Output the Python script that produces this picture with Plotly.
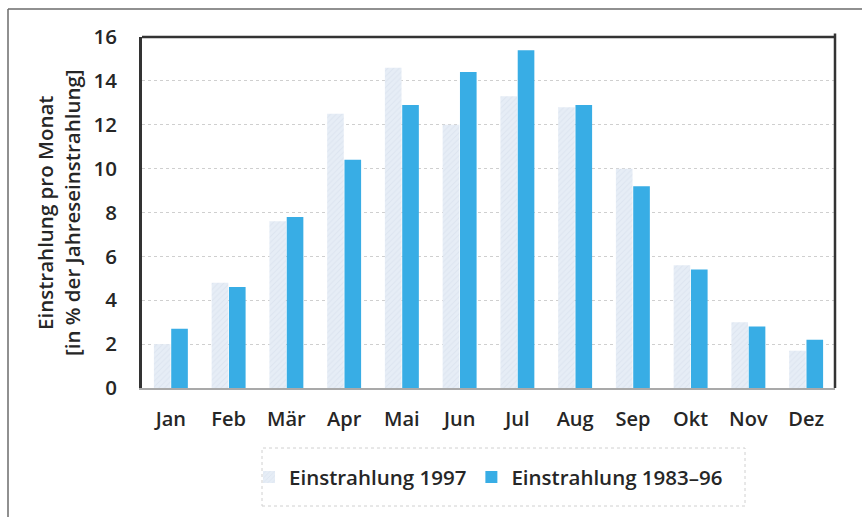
import plotly.graph_objects as go

months = ["Jan", "Feb", "Mär", "Apr", "Mai", "Jun", "Jul", "Aug", "Sep", "Okt", "Nov", "Dez"]
einstrahlung_1997 = [2.0, 4.8, 7.6, 12.5, 14.6, 12.0, 13.3, 12.8, 10.0, 5.6, 3.0, 1.7]
einstrahlung_1983_96 = [2.7, 4.6, 7.8, 10.4, 12.9, 14.4, 15.4, 12.9, 9.2, 5.4, 2.8, 2.2]
y_ticks = [0, 2, 4, 6, 8, 10, 12, 14, 16]

FONT = "Open Sans"
TXT = "#262626"

fig = go.Figure()
fig.add_trace(go.Bar(
    x=months, y=einstrahlung_1997, name="Einstrahlung 1997",
    marker=dict(color="#e5ecf6", line=dict(width=0),
                pattern=dict(shape="/", bgcolor="#e6edf6", fgcolor="#d0dbea", size=4, solidity=0.25)),
))
fig.add_trace(go.Bar(
    x=months, y=einstrahlung_1983_96, name="Einstrahlung 1983–96",
    marker=dict(color="#38ade5", line=dict(width=0)),
))

fig.update_layout(
    width=862, height=517,
    margin=dict(l=142, r=27, t=37, b=129),
    paper_bgcolor="white", plot_bgcolor="white",
    barmode="group", bargap=0.4, bargroupgap=0.04,
    font=dict(family=FONT, color=TXT, size=20, weight=600),
    showlegend=True,
    legend=dict(orientation="h", x=0.5, xanchor="center", y=-0.254, yanchor="middle",
                font=dict(family=FONT, size=20.5, color=TXT, weight=600),
                itemwidth=30, tracegroupgap=0, bgcolor="rgba(0,0,0,0)"),
    xaxis=dict(showgrid=False, showline=True, linecolor="#a9a9a9", linewidth=1.5,
               ticks="", ticklabelstandoff=12,
               tickfont=dict(family=FONT, size=20, color=TXT, weight=600)),
    yaxis=dict(range=[0, 16], tickvals=y_ticks, showgrid=True, gridcolor="#cfcfcf",
               griddash="dot", gridwidth=1, zeroline=False,
               showline=True, linecolor="#333333", linewidth=3,
               ticks="", ticklabelstandoff=18,
               tickfont=dict(family=FONT, size=20.5, color=TXT, weight=600)),
)

fig.add_annotation(
    xref="paper", yref="paper", x=-0.1205, y=0.5, xanchor="center", yanchor="middle",
    textangle=-90, showarrow=False,
    text="Einstrahlung pro Monat<br>[in % der Jahreseinstrahlung]",
    font=dict(family=FONT, size=20.5, color=TXT, weight=600),
)

# plot frame top / right
fig.add_shape(type="line", xref="paper", yref="paper", x0=0, x1=1, y0=1, y1=1,
              line=dict(color="#333333", width=2.5))
fig.add_shape(type="line", xref="paper", yref="paper", x0=1, x1=1, y0=0, y1=1.01,
              line=dict(color="#333333", width=2.5))
# outer frame (top and left)
fig.add_shape(type="line", xref="paper", yref="paper", x0=(8 - 142) / 693, x1=1.05,
              y0=(388 - 9) / 351, y1=(388 - 9) / 351, line=dict(color="#6b6b6b", width=1.5))
fig.add_shape(type="line", xref="paper", yref="paper", x0=(8 - 142) / 693, x1=(8 - 142) / 693,
              y0=(388 - 9) / 351, y1=-0.4, line=dict(color="#6b6b6b", width=1.5))
# legend box (dotted)
fig.add_shape(type="rect", xref="paper", yref="paper",
              x0=(262 - 142) / 693, x1=(745 - 142) / 693,
              y0=(388 - 506) / 351, y1=(388 - 448) / 351,
              line=dict(color="#d0d0d0", width=1, dash="dot"))

fig.write_html("out.html", config={"displayModeBar": False},
               post_script="document.body.style.margin='0';")
